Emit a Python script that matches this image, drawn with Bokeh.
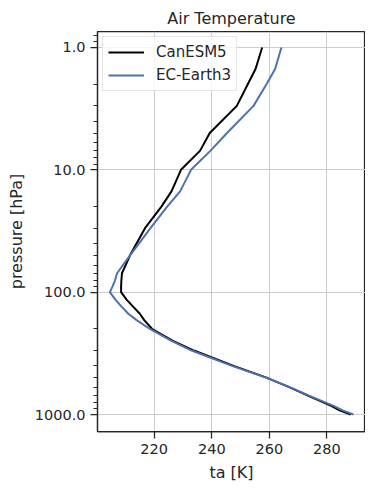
from bokeh.plotting import figure
from bokeh.models import FixedTicker, PrintfTickFormatter, Range1d, Legend, LegendItem
from bokeh.embed import file_html
from bokeh.resources import INLINE

# pressure levels [hPa]
plev = [1, 1.5, 2, 3, 5, 7, 10, 15, 20, 30, 50, 70, 80, 90, 100, 115, 130, 150,
        170, 200, 250, 300, 400, 500, 600, 700, 850, 925, 1000]

# air temperature [K]
canesm5 = [257.5, 255.2, 252.5, 248.7, 239.3, 235.9, 229.3, 226.0, 222.5, 216.8,
           211.6, 208.8, 208.6, 208.5, 208.5, 210.4, 212.5, 215.0, 216.6, 219.3,
           226.5, 233.8, 247.6, 259.0, 267.1, 273.4, 281.5, 284.4, 288.3]
ec_earth3 = [264.2, 262.0, 259.0, 254.5, 245.3, 239.5, 232.8, 229.0, 224.5, 218.7,
             211.6, 207.1, 206.4, 205.5, 204.6, 206.5, 208.5, 211.0, 214.0, 218.5,
             226.0, 233.0, 247.0, 258.8, 267.3, 273.8, 282.3, 285.5, 289.2]

x_ticks = [220, 240, 260, 280]
y_ticks = [1, 10, 100, 1000]
y_minor = [0.8, 0.9] + [m * d for d in (1, 10, 100) for m in range(2, 10)]

FONT = "DejaVu Sans"
TXT = "#262626"

p = figure(frame_width=268, frame_height=400, y_axis_type="log",
           x_range=Range1d(200.3, 293.4), y_range=Range1d(1377, 0.74),
           output_backend="svg", toolbar_location=None,
           min_border_left=97, min_border_top=31, min_border_right=0,
           min_border_bottom=46, title="Air Temperature")

p.title.align = "center"
p.title.text_font = FONT
p.title.text_font_size = "16px"
p.title.text_font_style = "normal"
p.title.text_color = TXT
p.title.standoff = 8

r1 = p.line(canesm5, plev, line_color="black", line_width=2)
r2 = p.line(ec_earth3, plev, line_color="#4c72b0", line_width=2)

p.xaxis.ticker = FixedTicker(ticks=x_ticks)
p.yaxis.ticker = FixedTicker(ticks=y_ticks, minor_ticks=y_minor)
p.yaxis.formatter = PrintfTickFormatter(format="%.1f")
p.xgrid.ticker = FixedTicker(ticks=x_ticks)
p.ygrid.ticker = FixedTicker(ticks=y_ticks)

for g in (p.xgrid, p.ygrid):
    g.grid_line_color = "#cccccc"
    g.grid_line_width = 1

p.xaxis.axis_label = "ta [K]"
p.yaxis.axis_label = "pressure [hPa]"
for ax in (p.xaxis, p.yaxis):
    ax.axis_label_text_font = FONT
    ax.axis_label_text_font_size = "16px"
    ax.axis_label_text_font_style = "normal"
    ax.axis_label_text_color = TXT
    ax.major_label_text_font = FONT
    ax.major_label_text_font_size = "14.5px"
    ax.major_label_text_color = TXT
    ax.axis_line_color = TXT
    ax.axis_line_width = 1.25
    ax.major_tick_line_color = TXT
    ax.major_tick_line_width = 1.25
    ax.minor_tick_line_color = TXT
    ax.minor_tick_line_width = 1
    ax.major_tick_out = 7
    ax.major_tick_in = 0
    ax.minor_tick_out = 4
    ax.minor_tick_in = 0
    ax.major_label_standoff = 5
    ax.axis_label_standoff = 6
p.xaxis.minor_tick_line_color = None

p.outline_line_color = TXT
p.outline_line_width = 1.25
p.outline_line_alpha = 1

legend = Legend(items=[LegendItem(label="CanESM5", renderers=[r1]),
                       LegendItem(label="EC-Earth3", renderers=[r2])],
                location="top_left")
legend.margin = 5
legend.padding = 5
legend.spacing = 3
legend.label_height = 20
legend.glyph_height = 20
legend.glyph_width = 36
legend.label_standoff = 12
legend.label_text_font = FONT
legend.label_text_font_size = "15px"
legend.label_text_color = TXT
legend.border_line_color = "#cccccc"
legend.border_line_width = 1
legend.background_fill_color = "white"
legend.background_fill_alpha = 0.8
p.add_layout(legend)

p.background_fill_color = "white"
p.border_fill_color = "white"

open("out.html", "w").write(file_html(p, INLINE))
